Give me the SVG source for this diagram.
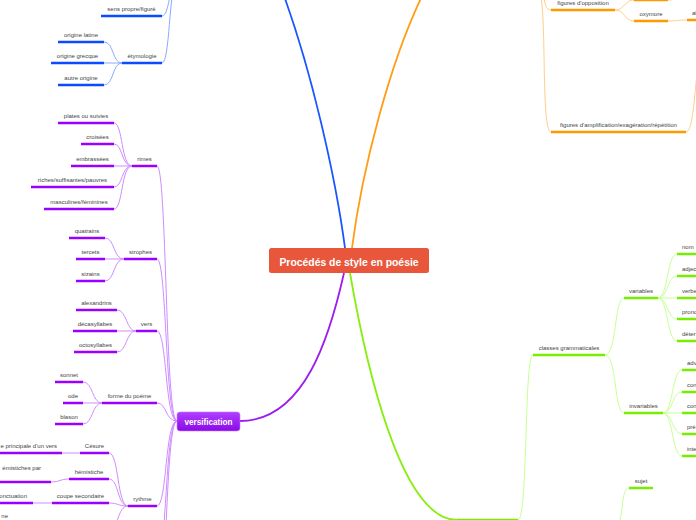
<svg xmlns="http://www.w3.org/2000/svg" width="696" height="520" viewBox="0 0 696 520">
<style>
.t{font-family:"Liberation Sans",Arial,sans-serif;font-size:6px;fill:#444;text-anchor:middle}
.s{text-anchor:start}
.e{text-anchor:end}
.ub{stroke:#0a4bff;stroke-width:2.5}
.uo{stroke:#ff9900;stroke-width:2.5}
.up{stroke:#9900ff;stroke-width:2.5}
.ug{stroke:#77ee00;stroke-width:2.5}
.cb{fill:none;stroke:#8aa8ff;stroke-width:1}
.co{fill:none;stroke:#ffcf8a;stroke-width:1}
.cp{fill:none;stroke:#cf8cff;stroke-width:1}
.cg{fill:none;stroke:#c8ff94;stroke-width:1}
.mb{fill:none;stroke:#1a55ff;stroke-width:1.8}
.mo{fill:none;stroke:#ff9d14;stroke-width:1.8}
.mp{fill:none;stroke:#9d1cf0;stroke-width:1.8}
.mg{fill:none;stroke:#88ee11;stroke-width:1.8}
</style>
<defs>
<linearGradient id="gp" x1="0" y1="0" x2="0" y2="1"><stop offset="0" stop-color="#b040ff"/><stop offset="1" stop-color="#8a0ae6"/></linearGradient>
</defs>
<rect width="696" height="520" fill="#fff"/>
<g id="connectors">
<path class="mb" d="M345,248 C336,180 312,70 280,-15"/>
<path class="cb" d="M162,16 C169,16 169,-14 176,-14"/>
<path class="cb" d="M162,63 C170,63 169,-14 176,-14"/>
<path class="cb" d="M122,63 L104,63"/>
<path class="cb" d="M122,63 C112,63 114,42 104,42"/>
<path class="cb" d="M122,63 C112,63 114,85 104,85"/>
<path class="mo" d="M352,248 C362,170 390,60 425,-10"/>
<path class="co" d="M538,-8 C547,-8 542,10 551,10"/>
<path class="co" d="M538,-8 C548,-8 540,132 551,132"/>
<path class="co" d="M615,10 C625,10 624,21 634,21"/>
<path class="co" d="M615,10 C625,10 624,0 634,0"/>
<path class="co" d="M668,21 C678,21 677,20 687,20"/>
<path class="co" d="M668,0 C678,0 680,-4 690,-4"/>
<path class="co" d="M686,132 C696,132 694,60 702,60"/>
<path class="mp" d="M344,273 C330,335 305,421 240,421"/>
<path class="cp" d="M177,421 C165,421 167,166 157,166"/>
<path class="cp" d="M177,421 C165,421 167,259 157,259"/>
<path class="cp" d="M177,421 C165,421 167,331 157,331"/>
<path class="cp" d="M177,421 C165,421 167,403 157,403"/>
<path class="cp" d="M177,421 C165,421 167,506 157,506"/>
<path class="cp" d="M177,421 C165,421 167,560 157,560"/>
<path class="cp" d="M177,421 C165,421 167,620 157,620"/>
<path class="cp" d="M132,166 C121,166 123,123 114,123"/>
<path class="cp" d="M132,166 C121,166 123,144 114,144"/>
<path class="cp" d="M132,166 L114,166"/>
<path class="cp" d="M132,166 C121,166 123,187 114,187"/>
<path class="cp" d="M132,166 C121,166 123,209 114,209"/>
<path class="cp" d="M124,259 C113,259 115,238 105,238"/>
<path class="cp" d="M124,259 L105,259"/>
<path class="cp" d="M124,259 C113,259 115,281 105,281"/>
<path class="cp" d="M136,331 C126,331 127,310 117,310"/>
<path class="cp" d="M136,331 L117,331"/>
<path class="cp" d="M136,331 C126,331 127,352 117,352"/>
<path class="cp" d="M102,403 C92,403 93,382 83,382"/>
<path class="cp" d="M102,403 L83,403"/>
<path class="cp" d="M102,403 C92,403 93,424 83,424"/>
<path class="cp" d="M128,506 C117,506 119,453 109,453"/>
<path class="cp" d="M128,506 C117,506 119,479 109,479"/>
<path class="cp" d="M128,506 C117,506 119,503 109,503"/>
<path class="cp" d="M128,506 C117,506 119,530 109,530"/>
<path class="cp" d="M80,453 L62,453"/>
<path class="cp" d="M69,479 C60,479 60,482 51,482"/>
<path class="cp" d="M52,503 L33,503"/>
<path class="mg" d="M350,273 C365,360 400,520 457,520"/>
<path class="cg" d="M518,520 C528,520 524,355 533,355"/>
<path class="cg" d="M605,355 C617,355 614,298 624,298"/>
<path class="cg" d="M605,355 C617,355 614,413 624,413"/>
<path class="cg" d="M658,298 C668,298 667,254 677,254"/>
<path class="cg" d="M658,298 C668,298 667,276 677,276"/>
<path class="cg" d="M658,298 L677,298"/>
<path class="cg" d="M658,298 C668,298 667,319 677,319"/>
<path class="cg" d="M658,298 C668,298 667,341 677,341"/>
<path class="cg" d="M663,413 C673,413 672,370 682,370"/>
<path class="cg" d="M663,413 C673,413 672,392 682,392"/>
<path class="cg" d="M663,413 L682,413"/>
<path class="cg" d="M663,413 C673,413 672,434 682,434"/>
<path class="cg" d="M663,413 C673,413 672,456 682,456"/>
<path class="cg" d="M629,488 C620,488 624,525 615,530"/>
</g>
<g id="root">
<rect x="269" y="248" width="160" height="25" rx="2.5" fill="#e8573c"/>
<text x="349" y="265.5" style="font-family:'Liberation Sans',Arial,sans-serif;font-size:10.4px;font-weight:bold;fill:#fff;text-anchor:middle">Procédés de style en poésie</text>
</g>
<g id="versification">
<rect x="177" y="412" width="63" height="19" rx="3" fill="url(#gp)" stroke="#c27aff" stroke-width="0.6"/>
<text x="208.5" y="424.5" style="font-family:'Liberation Sans',Arial,sans-serif;font-size:8.2px;font-weight:bold;fill:#fff;text-anchor:middle">versification</text>
</g>
<g id="sens"><line class="ub" x1="101" y1="16" x2="162" y2="16"/><text class="t" x="131.5" y="11">sens propre/figuré</text></g>
<g id="etymologie"><line class="ub" x1="122" y1="63" x2="162" y2="63"/><text class="t" x="142" y="58">étymologie</text></g>
<g id="latine"><line class="ub" x1="58" y1="42" x2="104" y2="42"/><text class="t" x="81" y="37">origine latine</text></g>
<g id="grecque"><line class="ub" x1="51" y1="63" x2="104" y2="63"/><text class="t" x="77.5" y="58">origine grecque</text></g>
<g id="autre"><line class="ub" x1="58" y1="85" x2="104" y2="85"/><text class="t" x="81" y="80">autre origine</text></g>
<g id="rimes"><line class="up" x1="132" y1="166" x2="157" y2="166"/><text class="t" x="144.5" y="161">rimes</text></g>
<g id="plates"><line class="up" x1="58" y1="123" x2="114" y2="123"/><text class="t" x="86" y="118">plates ou suivies</text></g>
<g id="croisees"><line class="up" x1="81" y1="144" x2="114" y2="144"/><text class="t" x="97.5" y="139">croisées</text></g>
<g id="embrassees"><line class="up" x1="71" y1="166" x2="114" y2="166"/><text class="t" x="92.5" y="161">embrassées</text></g>
<g id="riches"><line class="up" x1="31" y1="187" x2="114" y2="187"/><text class="t" x="72.5" y="182">riches/suffisantes/pauvres</text></g>
<g id="masculines"><line class="up" x1="44" y1="209" x2="114" y2="209"/><text class="t" x="79" y="204">masculines/féminines</text></g>
<g id="strophes"><line class="up" x1="124" y1="259" x2="157" y2="259"/><text class="t" x="140.5" y="254">strophes</text></g>
<g id="quatrains"><line class="up" x1="69" y1="238" x2="105" y2="238"/><text class="t" x="87" y="233">quatrains</text></g>
<g id="tercets"><line class="up" x1="76" y1="259" x2="105" y2="259"/><text class="t" x="90.5" y="254">tercets</text></g>
<g id="sizains"><line class="up" x1="76" y1="281" x2="105" y2="281"/><text class="t" x="90.5" y="276">sizains</text></g>
<g id="vers"><line class="up" x1="136" y1="331" x2="157" y2="331"/><text class="t" x="146.5" y="326">vers</text></g>
<g id="alexandrins"><line class="up" x1="76" y1="310" x2="117" y2="310"/><text class="t" x="96.5" y="305">alexandrins</text></g>
<g id="decasyllabes"><line class="up" x1="73" y1="331" x2="117" y2="331"/><text class="t" x="95" y="326">décasyllabes</text></g>
<g id="octosyllabes"><line class="up" x1="74" y1="352" x2="117" y2="352"/><text class="t" x="95.5" y="347">octosyllabes</text></g>
<g id="forme"><line class="up" x1="102" y1="403" x2="157" y2="403"/><text class="t" x="129.5" y="398">forme du poème</text></g>
<g id="sonnet"><line class="up" x1="55" y1="382" x2="83" y2="382"/><text class="t" x="69" y="377">sonnet</text></g>
<g id="ode"><line class="up" x1="63" y1="403" x2="83" y2="403"/><text class="t" x="73" y="398">ode</text></g>
<g id="blason"><line class="up" x1="55" y1="424" x2="83" y2="424"/><text class="t" x="69" y="419">blason</text></g>
<g id="rythme"><line class="up" x1="128" y1="506" x2="157" y2="506"/><text class="t" x="142.5" y="501">rythme</text></g>
<g id="cesure"><line class="up" x1="80" y1="453" x2="109" y2="453"/><text class="t" x="94.5" y="448">Césure</text></g>
<g id="cesure-def"><line class="up" x1="-2" y1="453" x2="62" y2="453"/><text class="t e" x="57" y="448">e principale d'un vers</text></g>
<g id="hemistiche"><line class="up" x1="69" y1="479" x2="109" y2="479"/><text class="t" x="89" y="474">hémistiche</text></g>
<g id="hemistiche-def"><line class="up" x1="-2" y1="482" x2="51" y2="482"/><text class="t e" x="41" y="470">émistiches par</text></g>
<g id="coupe"><line class="up" x1="52" y1="503" x2="109" y2="503"/><text class="t" x="80.5" y="498">coupe secondaire</text></g>
<g id="coupe-def"><line class="up" x1="-2" y1="503" x2="33" y2="503"/><text class="t e" x="27" y="498">onctuation</text></g>
<g id="bottom-def"><text class="t e" x="8" y="518">ne</text></g>
<g id="opposition"><line class="uo" x1="551" y1="10" x2="615" y2="10"/><text class="t" x="583" y="5">figures d'opposition</text></g>
<g id="opp-top"><line class="uo" x1="634" y1="0" x2="668" y2="0"/></g>
<g id="oxymore"><line class="uo" x1="634" y1="21" x2="668" y2="21"/><text class="t" x="651" y="16">oxymore</text></g>
<g id="al"><line class="uo" x1="687" y1="20" x2="700" y2="20"/><text class="t s" x="692" y="15">al</text></g>
<g id="amplification"><line class="uo" x1="551" y1="132" x2="686" y2="132"/><text class="t" x="618.5" y="127">figures d'amplification/exagération/répétition</text></g>
<g id="green-main"><line class="ug" x1="457" y1="520" x2="518" y2="520"/></g>
<g id="classes"><line class="ug" x1="533" y1="355" x2="605" y2="355"/><text class="t" x="569" y="350">classes grammaticales</text></g>
<g id="variables"><line class="ug" x1="624" y1="298" x2="658" y2="298"/><text class="t" x="641" y="293">variables</text></g>
<g id="invariables"><line class="ug" x1="624" y1="413" x2="663" y2="413"/><text class="t" x="643.5" y="408">invariables</text></g>
<g id="nom"><line class="ug" x1="677" y1="254" x2="700" y2="254"/><text class="t s" x="682" y="249">nom</text></g>
<g id="adjec"><line class="ug" x1="677" y1="276" x2="700" y2="276"/><text class="t s" x="682" y="271">adjec</text></g>
<g id="verbe"><line class="ug" x1="677" y1="298" x2="700" y2="298"/><text class="t s" x="682" y="293">verbe</text></g>
<g id="prono"><line class="ug" x1="677" y1="319" x2="700" y2="319"/><text class="t s" x="682" y="314">prono</text></g>
<g id="deter"><line class="ug" x1="677" y1="341" x2="700" y2="341"/><text class="t s" x="682" y="336">déter</text></g>
<g id="adv"><line class="ug" x1="682" y1="370" x2="700" y2="370"/><text class="t s" x="687" y="365">adv</text></g>
<g id="con1"><line class="ug" x1="682" y1="392" x2="700" y2="392"/><text class="t s" x="687" y="387">con</text></g>
<g id="con2"><line class="ug" x1="682" y1="413" x2="700" y2="413"/><text class="t s" x="687" y="408">con</text></g>
<g id="pre"><line class="ug" x1="682" y1="434" x2="700" y2="434"/><text class="t s" x="687" y="429">pré</text></g>
<g id="inte"><line class="ug" x1="682" y1="456" x2="700" y2="456"/><text class="t s" x="687" y="451">inte</text></g>
<g id="sujet"><line class="ug" x1="629" y1="488" x2="653" y2="488"/><text class="t" x="641" y="483">sujet</text></g>
</svg>
